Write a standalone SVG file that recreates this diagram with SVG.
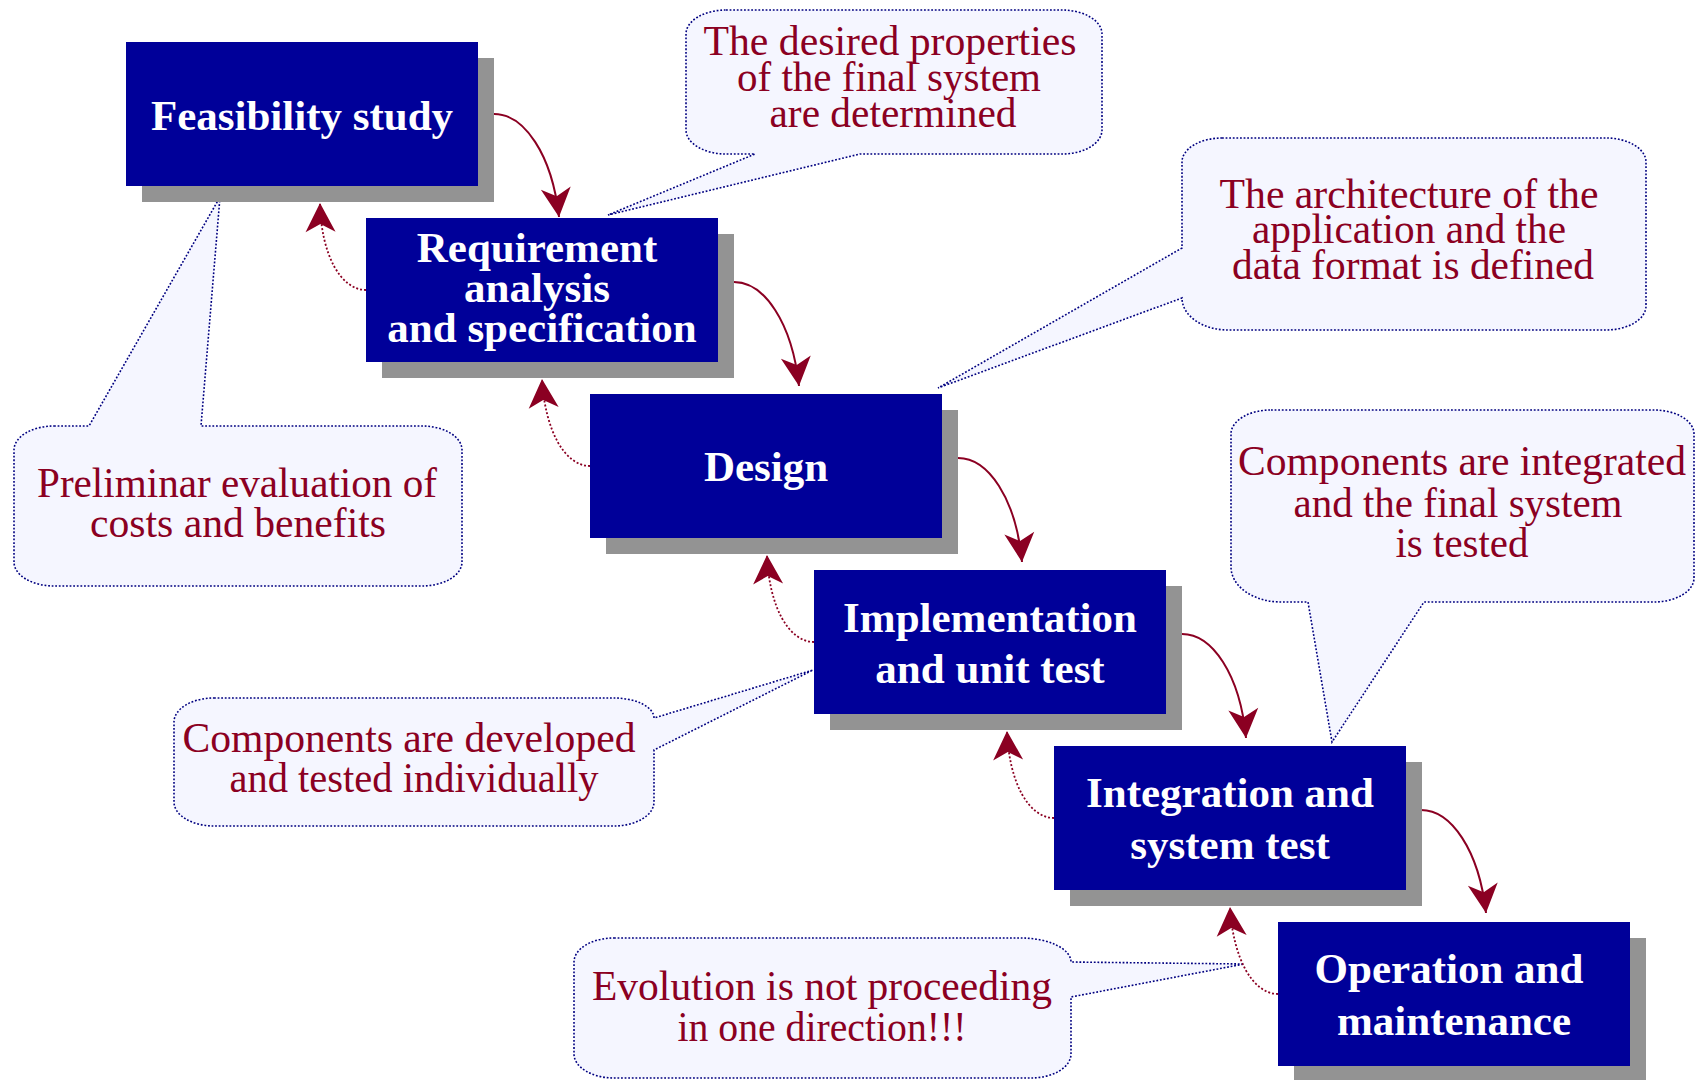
<svg xmlns="http://www.w3.org/2000/svg" width="1697" height="1080" viewBox="0 0 1697 1080">
<style>
.shadow{fill:#939393}
.box{fill:#000099}
.bt{font-family:"Liberation Serif","Times New Roman",serif;font-weight:bold;font-size:43px;fill:#ffffff;text-anchor:middle}
.bubble{fill:#f5f6ff;stroke:#000080;stroke-width:1.6;stroke-dasharray:1.8 1.8}
.ct{font-family:"Liberation Serif","Times New Roman",serif;font-size:41.5px;fill:#8b0022;text-anchor:middle}
.fwd{fill:none;stroke:#8b0022;stroke-width:2;marker-end:url(#ah)}
.back{fill:none;stroke:#8b0022;stroke-width:1.8;stroke-dasharray:2 2;marker-end:url(#ah)}
</style>
<defs>
<marker id="ah" markerUnits="userSpaceOnUse" markerWidth="32" markerHeight="32" viewBox="-30 -16 32 32" refX="0" refY="0" orient="auto">
<path d="M0,0 L-29,-15 L-21,0 L-29,15 Z" fill="#8b0022"/>
</marker>
</defs>
<rect width="1697" height="1080" fill="#ffffff"/>

<g id="callout-preliminar">
<path class="bubble" d="M54,426 H89 L220,197 L201,426 H422 A40,24 0 0 1 462,450 V562 A40,24 0 0 1 422,586 H54 A40,24 0 0 1 14,562 V450 A40,24 0 0 1 54,426 Z"/>
<text class="ct"><tspan x="237" y="497" textLength="400" lengthAdjust="spacingAndGlyphs">Preliminar evaluation of</tspan><tspan x="238" y="537" textLength="296" lengthAdjust="spacingAndGlyphs">costs and benefits</tspan></text>
</g>
<g id="callout-desired">
<path class="bubble" d="M726,10 H1062 A40,24 0 0 1 1102,34 V130 A40,24 0 0 1 1062,154 H860 L608,215 L755,154 H726 A40,24 0 0 1 686,130 V34 A40,24 0 0 1 726,10 Z"/>
<text class="ct"><tspan x="890" y="55" textLength="373" lengthAdjust="spacingAndGlyphs">The desired properties</tspan><tspan x="889" y="91" textLength="304" lengthAdjust="spacingAndGlyphs">of the final system</tspan><tspan x="893" y="127" textLength="247" lengthAdjust="spacingAndGlyphs">are determined</tspan></text>
</g>
<g id="callout-architecture">
<path class="bubble" d="M1222,138 H1606 A40,24 0 0 1 1646,162 V306 A40,24 0 0 1 1606,330 H1228 A46,32 0 0 1 1182,298 L938,388 L1182,248 V162 A40,24 0 0 1 1222,138 Z"/>
<text class="ct"><tspan x="1409" y="208" textLength="379" lengthAdjust="spacingAndGlyphs">The architecture of the</tspan><tspan x="1409" y="243" textLength="314" lengthAdjust="spacingAndGlyphs">application and the</tspan><tspan x="1413" y="279" textLength="362" lengthAdjust="spacingAndGlyphs">data format is defined</tspan></text>
</g>
<g id="callout-integrated">
<path class="bubble" d="M1271,410 H1654 A40,24 0 0 1 1694,434 V578 A40,24 0 0 1 1654,602 H1424 L1332,742 L1308,602 H1281 A50,35 0 0 1 1231,567 V434 A40,24 0 0 1 1271,410 Z"/>
<text class="ct"><tspan x="1462" y="475" textLength="448" lengthAdjust="spacingAndGlyphs">Components are integrated</tspan><tspan x="1458" y="517" textLength="329" lengthAdjust="spacingAndGlyphs">and the final system</tspan><tspan x="1462" y="557" textLength="133" lengthAdjust="spacingAndGlyphs">is tested</tspan></text>
</g>
<g id="callout-developed">
<path class="bubble" d="M214,698 H614 A40,20 0 0 1 654,718 L813,670 L654,750 V802 A40,24 0 0 1 614,826 H214 A40,24 0 0 1 174,802 V722 A40,24 0 0 1 214,698 Z"/>
<text class="ct"><tspan x="409" y="752" textLength="453" lengthAdjust="spacingAndGlyphs">Components are developed</tspan><tspan x="414" y="792" textLength="369" lengthAdjust="spacingAndGlyphs">and tested individually</tspan></text>
</g>
<g id="callout-evolution">
<path class="bubble" d="M614,938 H1021 A50,24 0 0 1 1071,962 L1244,964 L1071,997 V1054 A40,24 0 0 1 1031,1078 H614 A40,24 0 0 1 574,1054 V962 A40,24 0 0 1 614,938 Z"/>
<text class="ct"><tspan x="822" y="1000" textLength="460" lengthAdjust="spacingAndGlyphs">Evolution is not proceeding</tspan><tspan x="822" y="1041" textLength="289" lengthAdjust="spacingAndGlyphs">in one direction!!!</tspan></text>
</g>

<g id="connectors">
<path class="fwd" d="M494,114 C524,114 552,154 559,217"/>
<path class="fwd" d="M734,282 C764,282 792,322 799,386"/>
<path class="fwd" d="M958,458 C988,458 1016,498 1022,562"/>
<path class="fwd" d="M1182,634 C1212,634 1240,674 1246,738"/>
<path class="fwd" d="M1421,810 C1451,810 1479,850 1486,913"/>
<path class="back" d="M366,290 C341,290 321,255 320,203"/>
<path class="back" d="M590,466 C565,466 545,431 542,379"/>
<path class="back" d="M814,642 C789,642 769,607 767,555"/>
<path class="back" d="M1054,818 C1029,818 1009,783 1007,731"/>
<path class="back" d="M1278,994 C1253,994 1233,959 1230,907"/>
</g>

<g id="feasibility">
<rect class="shadow" x="142" y="58" width="352" height="144"/>
<rect class="box" x="126" y="42" width="352" height="144"/>
<text class="bt" x="302" y="130">Feasibility study</text>
</g>
<g id="requirement">
<rect class="shadow" x="382" y="234" width="352" height="144"/>
<rect class="box" x="366" y="218" width="352" height="144"/>
<text class="bt"><tspan x="537" y="262">Requirement</tspan><tspan x="537" y="302">analysis</tspan><tspan x="542" y="342">and specification</tspan></text>
</g>
<g id="design">
<rect class="shadow" x="606" y="410" width="352" height="144"/>
<rect class="box" x="590" y="394" width="352" height="144"/>
<text class="bt" x="766" y="481">Design</text>
</g>
<g id="implementation">
<rect class="shadow" x="830" y="586" width="352" height="144"/>
<rect class="box" x="814" y="570" width="352" height="144"/>
<text class="bt"><tspan x="990" y="632">Implementation</tspan><tspan x="990" y="683">and unit test</tspan></text>
</g>
<g id="integration">
<rect class="shadow" x="1070" y="762" width="352" height="144"/>
<rect class="box" x="1054" y="746" width="352" height="144"/>
<text class="bt"><tspan x="1230" y="807">Integration and</tspan><tspan x="1230" y="859">system test</tspan></text>
</g>
<g id="operation">
<rect class="shadow" x="1294" y="938" width="352" height="144"/>
<rect class="box" x="1278" y="922" width="352" height="144"/>
<text class="bt"><tspan x="1449" y="983">Operation and</tspan><tspan x="1454" y="1035">maintenance</tspan></text>
</g>
</svg>
